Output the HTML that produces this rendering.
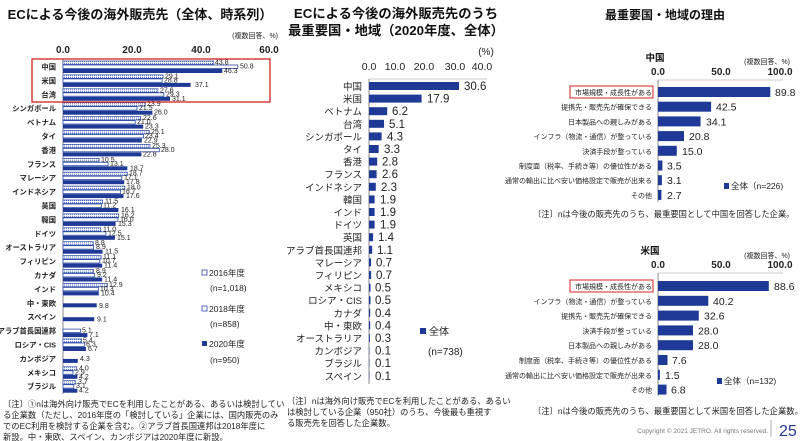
<!DOCTYPE html>
<html><head><meta charset="utf-8"><style>
html,body{margin:0;padding:0;background:#fff;}
svg{display:block;font-family:"Liberation Sans","Noto Sans CJK JP",sans-serif;}
.c{fill:#222;font-size:7.3px;text-anchor:end;font-weight:bold}
.v{fill:#222;font-size:7px}
.m{fill:#222;font-size:9.5px;text-anchor:end}
.mv{fill:#222;font-size:11.5px}
.r{fill:#222;font-size:7px;text-anchor:end}
.rv{fill:#222;font-size:10.5px}
.ax{fill:#222;font-size:10px;font-weight:bold;text-anchor:middle}
.nt{fill:#222;font-size:8.3px}
.b{fill:#1e3a96}
.p{fill:url(#dots);stroke:#2a4aa8;stroke-width:.7}
.q{fill:#fff;stroke:#2a4aa8;stroke-width:.8}
</style></head><body>
<svg width="800" height="441" viewBox="0 0 800 441">
<defs><pattern id="dots" width="2" height="2" patternUnits="userSpaceOnUse"><rect width="2" height="2" fill="#fff"/><rect width="1" height="1" fill="#5b78c8"/></pattern></defs>

<!-- LEFT -->
<text x="140" y="19" font-size="13" font-weight="bold" text-anchor="middle" fill="#111">ECによる今後の海外販売先（全体、時系列）</text>
<text x="278" y="38" font-size="7" text-anchor="end" fill="#222">(複数回答、%)</text>
<text class="ax" x="63" y="53">0.0</text><text class="ax" x="132" y="53">20.0</text><text class="ax" x="201" y="53">40.0</text><text class="ax" x="269" y="53">60.0</text>
<line x1="63" y1="59" x2="63" y2="394" stroke="#888" stroke-width="1"/>
<line x1="63" y1="59" x2="270" y2="59" stroke="#bbb" stroke-width=".8"/>

<g transform="translate(0,67)"><text class="c" x="56" y="2.5">中国</text><rect class="p" x="63" y="-6" width="150.7" height="3.4"/><rect class="q" x="63" y="-2" width="174.8" height="3.4"/><rect class="b" x="63" y="2" width="159.3" height="4"/><text class="v" x="215" y="-2.5">43.8</text><text class="v" x="240" y="1.5">50.8</text><text class="v" x="224" y="6">46.3</text></g>
<g transform="translate(0,80.9)"><text class="c" x="56" y="2.5">米国</text><rect class="p" x="63" y="-6" width="100.1" height="3.4"/><rect class="q" x="63" y="-2" width="99.1" height="3.4"/><rect class="b" x="63" y="2" width="127.6" height="4"/><text class="v" x="165" y="-2.5">29.1</text><text class="v" x="164" y="1.5">28.8</text><text class="v" x="195" y="6">37.1</text></g>
<g transform="translate(0,94.8)"><text class="c" x="56" y="2.5">台湾</text><rect class="p" x="63" y="-6" width="94.9" height="3.4"/><rect class="q" x="63" y="-2" width="100.8" height="3.4"/><rect class="b" x="63" y="2" width="107" height="4"/><text class="v" x="160" y="-2.5">27.6</text><text class="v" x="166" y="1.5">29.3</text><text class="v" x="172" y="6">31.1</text></g>
<g transform="translate(0,108.7)"><text class="c" x="56" y="2.5">シンガポール</text><rect class="p" x="63" y="-6" width="82.2" height="3.4"/><rect class="q" x="63" y="-2" width="74" height="3.4"/><rect class="b" x="63" y="2" width="89.4" height="4"/><text class="v" x="147" y="-2.5">23.9</text><text class="v" x="139" y="1.5">21.5</text><text class="v" x="154" y="6">26.0</text></g>
<g transform="translate(0,122.6)"><text class="c" x="56" y="2.5">ベトナム</text><rect class="p" x="63" y="-6" width="77.7" height="3.4"/><rect class="q" x="63" y="-2" width="72.2" height="3.4"/><rect class="b" x="63" y="2" width="80.2" height="4"/><text class="v" x="143" y="-2.5">22.6</text><text class="v" x="137" y="1.5">21.0</text><text class="v" x="145" y="6">23.3</text></g>
<g transform="translate(0,136.5)"><text class="c" x="56" y="2.5">タイ</text><rect class="p" x="63" y="-6" width="86.3" height="3.4"/><rect class="q" x="63" y="-2" width="80.5" height="3.4"/><rect class="b" x="63" y="2" width="78.8" height="4"/><text class="v" x="151" y="-2.5">25.1</text><text class="v" x="145" y="1.5">23.4</text><text class="v" x="144" y="6">22.9</text></g>
<g transform="translate(0,150.4)"><text class="c" x="56" y="2.5">香港</text><rect class="p" x="63" y="-6" width="87" height="3.4"/><rect class="q" x="63" y="-2" width="96.3" height="3.4"/><rect class="b" x="63" y="2" width="78.4" height="4"/><text class="v" x="152" y="-2.5">25.3</text><text class="v" x="161" y="1.5">28.0</text><text class="v" x="143" y="6">22.8</text></g>
<g transform="translate(0,164.3)"><text class="c" x="56" y="2.5">フランス</text><rect class="p" x="63" y="-6" width="36.1" height="3.4"/><rect class="q" x="63" y="-2" width="45.1" height="3.4"/><rect class="b" x="63" y="2" width="64.3" height="4"/><text class="v" x="101" y="-2.5">10.5</text><text class="v" x="110" y="1.5">13.1</text><text class="v" x="130" y="6">18.7</text></g>
<g transform="translate(0,178.2)"><text class="c" x="56" y="2.5">マレーシア</text><rect class="p" x="63" y="-6" width="64.3" height="3.4"/><rect class="q" x="63" y="-2" width="58.8" height="3.4"/><rect class="b" x="63" y="2" width="61.2" height="4"/><text class="v" x="129" y="-2.5">18.7</text><text class="v" x="124" y="1.5">17.1</text><text class="v" x="126" y="6">17.8</text></g>
<g transform="translate(0,192.1)"><text class="c" x="56" y="2.5">インドネシア</text><rect class="p" x="63" y="-6" width="61.9" height="3.4"/><rect class="q" x="63" y="-2" width="57.4" height="3.4"/><rect class="b" x="63" y="2" width="60.5" height="4"/><text class="v" x="127" y="-2.5">18.0</text><text class="v" x="122" y="1.5">16.7</text><text class="v" x="126" y="6">17.6</text></g>
<g transform="translate(0,206)"><text class="c" x="56" y="2.5">英国</text><rect class="p" x="63" y="-6" width="39.6" height="3.4"/><rect class="q" x="63" y="-2" width="38.5" height="3.4"/><rect class="b" x="63" y="2" width="55.4" height="4"/><text class="v" x="105" y="-2.5">11.5</text><text class="v" x="103" y="1.5">11.2</text><text class="v" x="121" y="6">16.1</text></g>
<g transform="translate(0,219.9)"><text class="c" x="56" y="2.5">韓国</text><rect class="p" x="63" y="-6" width="55.7" height="3.4"/><rect class="q" x="63" y="-2" width="55" height="3.4"/><rect class="b" x="63" y="2" width="52.6" height="4"/><text class="v" x="121" y="-2.5">16.2</text><text class="v" x="120" y="1.5">16.0</text><text class="v" x="118" y="6">15.3</text></g>
<g transform="translate(0,233.8)"><text class="c" x="56" y="2.5">ドイツ</text><rect class="p" x="63" y="-6" width="37.8" height="3.4"/><rect class="q" x="63" y="-2" width="43" height="3.4"/><rect class="b" x="63" y="2" width="51.9" height="4"/><text class="v" x="103" y="-2.5">11.0</text><text class="v" x="108" y="1.5">12.5</text><text class="v" x="117" y="6">15.1</text></g>
<g transform="translate(0,247.7)"><text class="c" x="56" y="2.5">オーストラリア</text><rect class="p" x="63" y="-6" width="30.3" height="3.4"/><rect class="q" x="63" y="-2" width="30.6" height="3.4"/><rect class="b" x="63" y="2" width="39.6" height="4"/><text class="v" x="95" y="-2.5">8.8</text><text class="v" x="96" y="1.5">8.9</text><text class="v" x="105" y="6">11.5</text></g>
<g transform="translate(0,261.6)"><text class="c" x="56" y="2.5">フィリピン</text><rect class="p" x="63" y="-6" width="38.2" height="3.4"/><rect class="q" x="63" y="-2" width="36.8" height="3.4"/><rect class="b" x="63" y="2" width="39.2" height="4"/><text class="v" x="103" y="-2.5">11.1</text><text class="v" x="102" y="1.5">10.7</text><text class="v" x="104" y="6">11.4</text></g>
<g transform="translate(0,275.5)"><text class="c" x="56" y="2.5">カナダ</text><rect class="p" x="63" y="-6" width="30.6" height="3.4"/><rect class="q" x="63" y="-2" width="31.6" height="3.4"/><rect class="b" x="63" y="2" width="39.2" height="4"/><text class="v" x="96" y="-2.5">8.9</text><text class="v" x="97" y="1.5">9.2</text><text class="v" x="104" y="6">11.4</text></g>
<g transform="translate(0,289.4)"><text class="c" x="56" y="2.5">インド</text><rect class="p" x="63" y="-6" width="44.4" height="3.4"/><rect class="q" x="63" y="-2" width="35.4" height="3.4"/><rect class="b" x="63" y="2" width="35.8" height="4"/><text class="v" x="109" y="-2.5">12.9</text><text class="v" x="100" y="1.5">10.3</text><text class="v" x="101" y="6">10.4</text></g>
<g transform="translate(0,303.3)"><text class="c" x="56" y="2.5">中・東欧</text><rect class="b" x="63" y="0" width="33.7" height="4"/><text class="v" x="99" y="4.5">9.8</text></g>
<g transform="translate(0,317.2)"><text class="c" x="56" y="2.5">スペイン</text><rect class="b" x="63" y="0" width="31.3" height="4"/><text class="v" x="97" y="4.5">9.1</text></g>
<g transform="translate(0,331.1)"><text class="c" x="56" y="2.5">アラブ首長国連邦</text><rect class="q" x="63" y="-2" width="17.5" height="3.4"/><rect class="b" x="63" y="2" width="24.4" height="4"/><text class="v" x="82" y="1.5">5.1</text><text class="v" x="89" y="6">7.1</text></g>
<g transform="translate(0,345)"><text class="c" x="56" y="2.5">ロシア・CIS</text><rect class="p" x="63" y="-6" width="18.6" height="3.4"/><rect class="q" x="63" y="-2" width="21.7" height="3.4"/><rect class="b" x="63" y="2" width="23" height="4"/><text class="v" x="83" y="-2.5">5.4</text><text class="v" x="86" y="1.5">6.3</text><text class="v" x="88" y="6">6.7</text></g>
<g transform="translate(0,358.9)"><text class="c" x="56" y="2.5">カンボジア</text><rect class="b" x="63" y="0" width="14.8" height="4"/><text class="v" x="80" y="2">4.3</text></g>
<g transform="translate(0,372.8)"><text class="c" x="56" y="2.5">メキシコ</text><rect class="p" x="63" y="-6" width="13.8" height="3.4"/><rect class="q" x="63" y="-2" width="10" height="3.4"/><rect class="b" x="63" y="2" width="14.4" height="4"/><text class="v" x="79" y="-2.5">4.0</text><text class="v" x="75" y="1.5">2.9</text><text class="v" x="79" y="6">4.2</text></g>
<g transform="translate(0,386.7)"><text class="c" x="56" y="2.5">ブラジル</text><rect class="p" x="63" y="-6" width="12.7" height="3.4"/><rect class="q" x="63" y="-2" width="10.7" height="3.4"/><rect class="b" x="63" y="2" width="14.4" height="4"/><text class="v" x="78" y="-2.5">3.7</text><text class="v" x="76" y="1.5">3.1</text><text class="v" x="79" y="6">4.2</text></g>

<rect x="32" y="59" width="238" height="43" fill="none" stroke="#d42020" stroke-width="1.3"/>

<rect class="q" x="202" y="270" width="5" height="5"/><text x="209" y="276" font-size="8.5" fill="#222">2016年度</text>
<text x="210" y="291" font-size="8.5" fill="#222">(n=1,018)</text>
<rect class="q" x="202" y="306" width="5" height="5"/><text x="209" y="312" font-size="8.5" fill="#222">2018年度</text>
<text x="210" y="327" font-size="8.5" fill="#222">(n=858)</text>
<rect class="b" x="202" y="341" width="5" height="5"/><text x="209" y="347" font-size="8.5" fill="#222">2020年度</text>
<text x="210" y="363" font-size="8.5" fill="#222">(n=950)</text>

<text class="nt" x="3" y="407">〔注〕①nは海外向け販売でECを利用したことがある、あるいは検討してい</text>
<text class="nt" x="3" y="418">る企業数（ただし、2016年度の「検討している」企業には、国内販売のみ</text>
<text class="nt" x="3" y="429">でのEC利用を検討する企業を含む。②アラブ首長国連邦は2018年度に</text>
<text class="nt" x="3" y="440">新設。中・東欧、スペイン、カンボジアは2020年度に新設。</text>

<!-- MIDDLE -->
<text x="396" y="18" font-size="13.3" font-weight="bold" text-anchor="middle" fill="#111">ECによる今後の海外販売先のうち</text>
<text x="396" y="35" font-size="13.3" font-weight="bold" text-anchor="middle" fill="#111">最重要国・地域（2020年度、全体）</text>
<text x="486" y="55" font-size="10" text-anchor="middle" fill="#222">(%)</text>
<text x="369" y="70" font-size="10.5" text-anchor="middle" fill="#222">0.0</text>
<text x="395" y="70" font-size="10.5" text-anchor="middle" fill="#222">10.0</text>
<text x="424" y="70" font-size="10.5" text-anchor="middle" fill="#222">20.0</text>
<text x="455" y="70" font-size="10.5" text-anchor="middle" fill="#222">30.0</text>
<text x="482" y="70" font-size="10.5" text-anchor="middle" fill="#222">40.0</text>
<line x1="369" y1="79" x2="487" y2="79" stroke="#bbb" stroke-width=".8"/>
<line x1="369" y1="79" x2="369" y2="384" stroke="#888"/>
<g class="b">
<rect x="369" y="82" width="90" height="8"/><rect x="369" y="94.6" width="52.6" height="8"/><rect x="369" y="107.2" width="18.2" height="8"/><rect x="369" y="119.8" width="15" height="8"/><rect x="369" y="132.4" width="12.6" height="8"/><rect x="369" y="145" width="9.7" height="8"/><rect x="369" y="157.6" width="8.2" height="8"/><rect x="369" y="170.2" width="7.6" height="8"/><rect x="369" y="182.8" width="6.8" height="8"/><rect x="369" y="195.4" width="5.6" height="8"/><rect x="369" y="208" width="5.6" height="8"/><rect x="369" y="220.6" width="5.6" height="8"/><rect x="369" y="233.2" width="4.1" height="8"/><rect x="369" y="245.8" width="3.2" height="8"/><rect x="369" y="258.4" width="2.1" height="8"/><rect x="369" y="271" width="2.1" height="8"/><rect x="369" y="283.6" width="1.5" height="8"/><rect x="369" y="296.2" width="1.5" height="8"/><rect x="369" y="308.8" width="1.2" height="8"/><rect x="369" y="321.4" width="1.2" height="8"/><rect x="369" y="334" width="0.9" height="8"/><rect x="369" y="346.6" width="0.4" height="8"/><rect x="369" y="359.2" width="0.4" height="8"/><rect x="369" y="371.8" width="0.4" height="8"/>
</g>
<text class="m" x="362" y="90">中国</text><text class="mv" x="464" y="90">30.6</text>
<text class="m" x="362" y="102.6">米国</text><text class="mv" x="427" y="102.6">17.9</text>
<text class="m" x="362" y="115.2">ベトナム</text><text class="mv" x="392" y="115.2">6.2</text>
<text class="m" x="362" y="127.8">台湾</text><text class="mv" x="389" y="127.8">5.1</text>
<text class="m" x="362" y="140.4">シンガポール</text><text class="mv" x="387" y="140.4">4.3</text>
<text class="m" x="362" y="153">タイ</text><text class="mv" x="384" y="153">3.3</text>
<text class="m" x="362" y="165.6">香港</text><text class="mv" x="382" y="165.6">2.8</text>
<text class="m" x="362" y="178.2">フランス</text><text class="mv" x="382" y="178.2">2.6</text>
<text class="m" x="362" y="190.8">インドネシア</text><text class="mv" x="381" y="190.8">2.3</text>
<text class="m" x="362" y="203.4">韓国</text><text class="mv" x="380" y="203.4">1.9</text>
<text class="m" x="362" y="216">インド</text><text class="mv" x="380" y="216">1.9</text>
<text class="m" x="362" y="228.6">ドイツ</text><text class="mv" x="380" y="228.6">1.9</text>
<text class="m" x="362" y="241.2">英国</text><text class="mv" x="378" y="241.2">1.4</text>
<text class="m" x="362" y="253.8">アラブ首長国連邦</text><text class="mv" x="377" y="253.8">1.1</text>
<text class="m" x="362" y="266.4">マレーシア</text><text class="mv" x="376" y="266.4">0.7</text>
<text class="m" x="362" y="279">フィリピン</text><text class="mv" x="376" y="279">0.7</text>
<text class="m" x="362" y="291.6">メキシコ</text><text class="mv" x="375" y="291.6">0.5</text>
<text class="m" x="362" y="304.2">ロシア・CIS</text><text class="mv" x="375" y="304.2">0.5</text>
<text class="m" x="362" y="316.8">カナダ</text><text class="mv" x="375" y="316.8">0.4</text>
<text class="m" x="362" y="329.4">中・東欧</text><text class="mv" x="375" y="329.4">0.4</text>
<text class="m" x="362" y="342">オーストラリア</text><text class="mv" x="375" y="342">0.3</text>
<text class="m" x="362" y="354.6">カンボジア</text><text class="mv" x="375" y="354.6">0.1</text>
<text class="m" x="362" y="367.2">ブラジル</text><text class="mv" x="375" y="367.2">0.1</text>
<text class="m" x="362" y="379.8">スペイン</text><text class="mv" x="375" y="379.8">0.1</text>
<rect class="b" x="420" y="328" width="6" height="6"/><text x="429" y="335" font-size="10" fill="#222">全体</text>
<text x="428" y="355" font-size="10" fill="#222">(n=738)</text>
<text class="nt" x="287" y="404">〔注〕nは海外向け販売でECを利用したことがある、あるい</text>
<text class="nt" x="287" y="415">は検討している企業（950社）のうち、今後最も重視す</text>
<text class="nt" x="287" y="426">る販売先を回答した企業数。</text>

<!-- RIGHT TOP -->
<text x="665" y="19" font-size="12" font-weight="bold" text-anchor="middle" fill="#111">最重要国・地域の理由</text>
<text x="655" y="61" font-size="9.5" font-weight="bold" text-anchor="middle" fill="#111">中国</text>
<text x="790" y="64" font-size="7" text-anchor="end" fill="#222">(複数回答、%)</text>
<text class="ax" x="658" y="75">0.0</text><text class="ax" x="721" y="75">50.0</text><text class="ax" x="780" y="75">100.0</text>
<line x1="658" y1="80" x2="783" y2="80" stroke="#bbb" stroke-width=".8"/>
<line x1="658" y1="80" x2="658" y2="202" stroke="#888"/>
<g class="b"><rect x="658" y="87" width="112.3" height="10"/><rect x="658" y="101.7" width="53.1" height="10"/><rect x="658" y="116.4" width="42.6" height="10"/><rect x="658" y="131.1" width="26" height="10"/><rect x="658" y="145.8" width="18.8" height="10"/><rect x="658" y="160.5" width="4.4" height="10"/><rect x="658" y="175.2" width="3.9" height="10"/><rect x="658" y="189.9" width="3.4" height="10"/></g>
<text class="r" x="652" y="95">市場規模・成長性がある</text><text class="rv" x="775" y="96">89.8</text>
<text class="r" x="652" y="109.7">提携先・販売先が確保できる</text><text class="rv" x="716" y="110.7">42.5</text>
<text class="r" x="652" y="124.4">日本製品への親しみがある</text><text class="rv" x="706" y="125.4">34.1</text>
<text class="r" x="652" y="139.1">インフラ（物流・通信）が整っている</text><text class="rv" x="689" y="140.1">20.8</text>
<text class="r" x="652" y="153.8">決済手段が整っている</text><text class="rv" x="682" y="154.8">15.0</text>
<text class="r" x="652" y="168.5">制度面（税率、手続き等）の優位性がある</text><text class="rv" x="667" y="169.5">3.5</text>
<text class="r" x="652" y="183.2">通常の輸出に比べ安い価格設定で販売が出来る</text><text class="rv" x="667" y="184.2">3.1</text>
<text class="r" x="652" y="197.9">その他</text><text class="rv" x="667" y="198.9">2.7</text>
<rect x="570" y="86" width="83" height="12" fill="none" stroke="#d42020" stroke-width="1"/>
<rect class="b" x="724" y="183" width="5" height="6"/><text x="731" y="189" font-size="8.5" fill="#222">全体（n=226)</text>
<text class="nt" x="533" y="217" font-size="7.5">〔注〕nは今後の販売先のうち、最重要国として中国を回答した企業。</text>

<!-- RIGHT BOTTOM -->
<text x="650" y="254" font-size="9.5" font-weight="bold" text-anchor="middle" fill="#111">米国</text>
<text x="790" y="258" font-size="7" text-anchor="end" fill="#222">(複数回答、%)</text>
<text class="ax" x="658" y="268">0.0</text><text class="ax" x="721" y="268">50.0</text><text class="ax" x="780" y="268">100.0</text>
<line x1="658" y1="273" x2="783" y2="273" stroke="#bbb" stroke-width=".8"/>
<line x1="658" y1="273" x2="658" y2="396" stroke="#888"/>
<g class="b"><rect x="658" y="281" width="110.8" height="10"/><rect x="658" y="295.8" width="50.3" height="10"/><rect x="658" y="310.6" width="40.8" height="10"/><rect x="658" y="325.4" width="35" height="10"/><rect x="658" y="340.2" width="35" height="10"/><rect x="658" y="355" width="9.5" height="10"/><rect x="658" y="369.8" width="1.9" height="10"/><rect x="658" y="384.6" width="8.5" height="10"/></g>
<text class="r" x="652" y="289">市場規模・成長性がある</text><text class="rv" x="774" y="290">88.6</text>
<text class="r" x="652" y="303.8">インフラ（物流・通信）が整っている</text><text class="rv" x="713" y="304.8">40.2</text>
<text class="r" x="652" y="318.6">提携先・販売先が確保できる</text><text class="rv" x="704" y="319.6">32.6</text>
<text class="r" x="652" y="333.4">決済手段が整っている</text><text class="rv" x="698" y="334.4">28.0</text>
<text class="r" x="652" y="348.2">日本製品への親しみがある</text><text class="rv" x="698" y="349.2">28.0</text>
<text class="r" x="652" y="363">制度面（税率、手続き等）の優位性がある</text><text class="rv" x="672" y="364">7.6</text>
<text class="r" x="652" y="377.8">通常の輸出に比べ安い価格設定で販売が出来る</text><text class="rv" x="665" y="378.8">1.5</text>
<text class="r" x="652" y="392.6">その他</text><text class="rv" x="671" y="393.6">6.8</text>
<rect x="570" y="280" width="83" height="12" fill="none" stroke="#d42020" stroke-width="1"/>
<rect class="b" x="717" y="378" width="5" height="6"/><text x="724" y="384" font-size="8.5" fill="#222">全体（n=132)</text>
<text class="nt" x="533" y="414" font-size="7.5">〔注〕nは今後の販売先のうち、最重要国として米国を回答した企業数。</text>

<text x="768" y="433" font-size="6.5" text-anchor="end" fill="#777">Copyright © 2021 JETRO. All rights reserved.</text>
<line x1="771" y1="420" x2="771" y2="437" stroke="#999" stroke-width=".8"/>
<text x="779" y="436" font-size="16" fill="#1e3a96">25</text>
</svg>
</body></html>
